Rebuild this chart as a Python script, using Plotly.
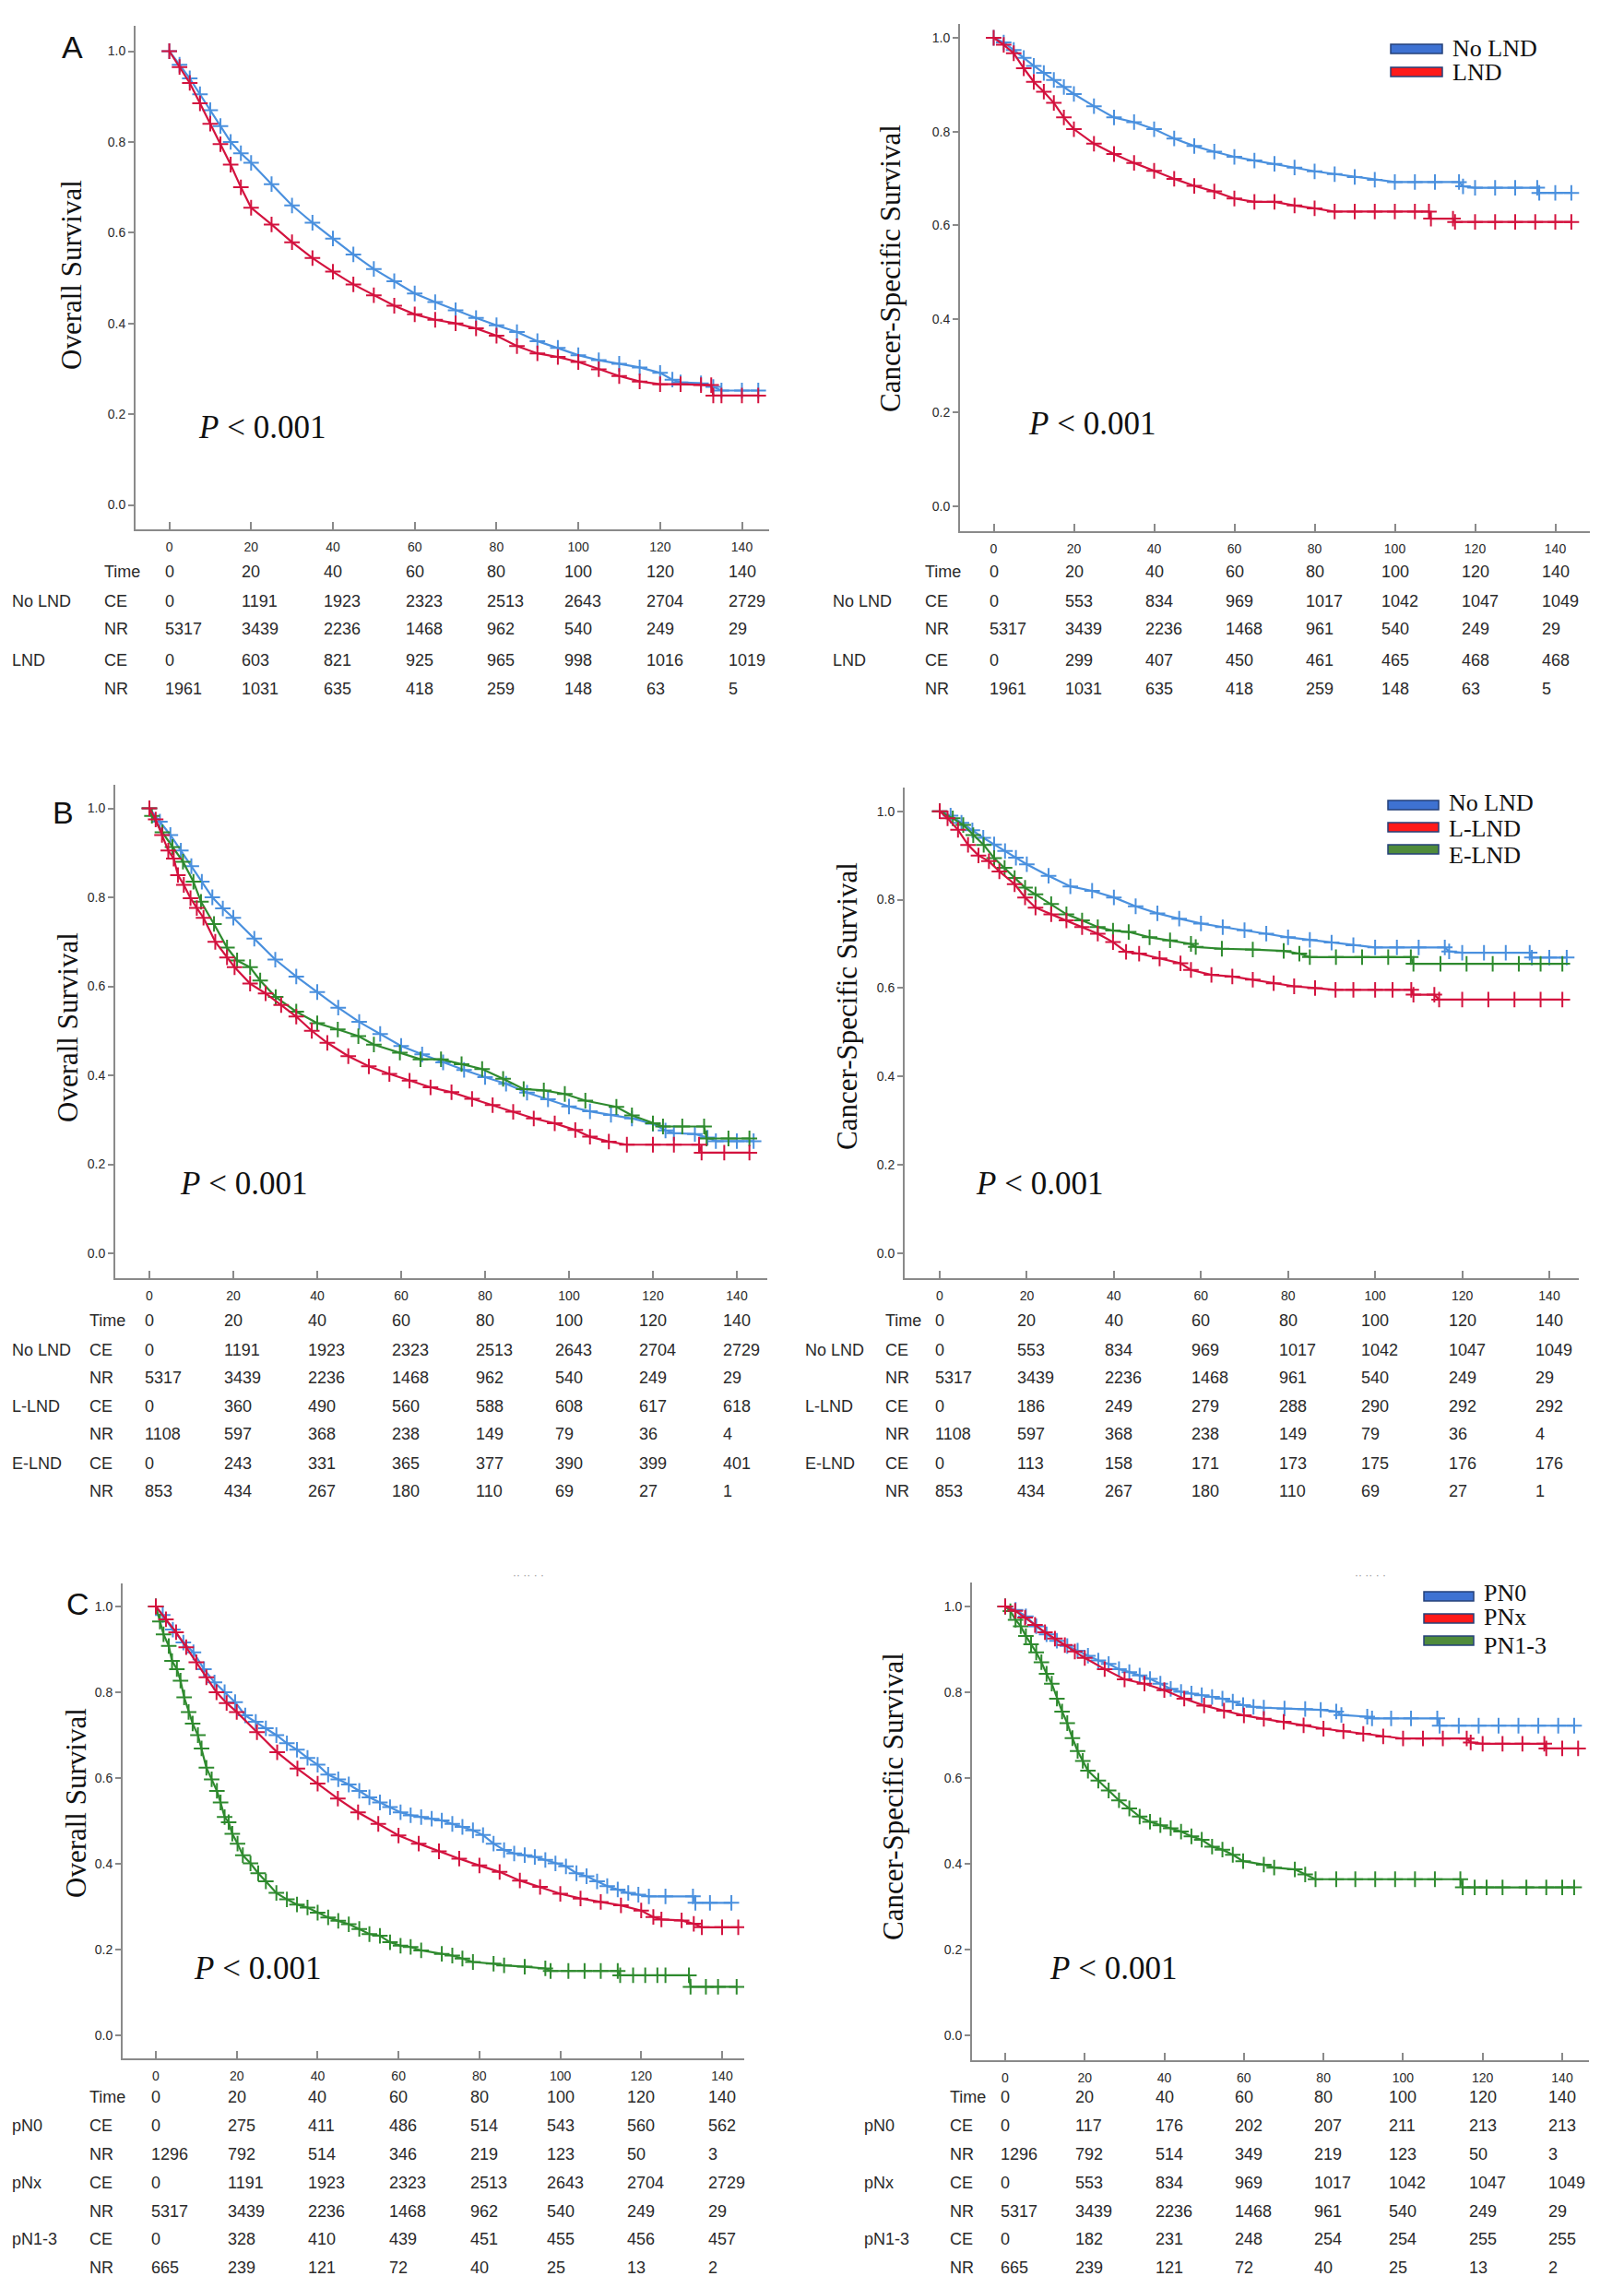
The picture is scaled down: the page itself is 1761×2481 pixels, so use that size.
import plotly.graph_objects as go

W, H = 1761, 2481

# ---------------- data ----------------
TIME_TICKS = [0, 20, 40, 60, 80, 100, 120, 140]
SURV_TICKS = [0.0, 0.2, 0.4, 0.6, 0.8, 1.0]
SURV_TICK_TEXT = ["0.0", "0.2", "0.4", "0.6", "0.8", "1.0"]

# Overall survival, No LND (= pNx)
os_nolnd_t = [0, 2.5, 5, 7.5, 10, 12.5, 15, 17.5, 20, 25, 30, 35, 40, 45, 50, 55, 60, 65, 70, 75, 80,
              85, 90, 95, 100, 105, 110, 115, 120, 123, 125, 130, 133, 135, 140, 144]
os_nolnd_s = [1.0, 0.97, 0.94, 0.905, 0.87, 0.835, 0.80, 0.775, 0.754, 0.707, 0.66, 0.622, 0.587,
              0.552, 0.52, 0.493, 0.466, 0.447, 0.429, 0.412, 0.396, 0.381, 0.361, 0.346, 0.330,
              0.319, 0.311, 0.303, 0.291, 0.276, 0.27, 0.268, 0.26, 0.252, 0.252, 0.252]
# Overall survival, LND
os_lnd_t = [0, 2.5, 5, 7.5, 10, 12.5, 15, 17.5, 20, 25, 30, 35, 40, 45, 50, 55, 60, 65, 70, 75, 80,
            85, 90, 95, 100, 105, 110, 115, 120, 125, 130, 132.5, 133, 135, 140, 144]
os_lnd_s = [1.0, 0.965, 0.93, 0.885, 0.84, 0.795, 0.75, 0.70, 0.655, 0.618, 0.579, 0.544, 0.514,
            0.486, 0.462, 0.439, 0.42, 0.408, 0.40, 0.389, 0.373, 0.35, 0.334, 0.326, 0.315,
            0.299, 0.284, 0.272, 0.266, 0.266, 0.264, 0.264, 0.241, 0.241, 0.241, 0.241]
# Cancer-specific survival, No LND (= pNx)
css_nolnd_t = [0, 2.5, 5, 7.5, 10, 12.5, 15, 17.5, 20, 25, 30, 35, 40, 45, 50, 55, 60, 65, 70, 75,
               80, 85, 90, 95, 100, 105, 110, 116, 117, 120, 125, 130, 135.5, 136, 140, 144]
css_nolnd_s = [1.0, 0.99, 0.974, 0.957, 0.94, 0.925, 0.91, 0.895, 0.88, 0.854, 0.83, 0.82, 0.805,
               0.785, 0.769, 0.757, 0.746, 0.738, 0.731, 0.723, 0.715, 0.709, 0.703, 0.697, 0.692,
               0.692, 0.692, 0.692, 0.683, 0.68, 0.68, 0.68, 0.68, 0.669, 0.669, 0.669]
# Cancer-specific survival, LND
css_lnd_t = [0, 2.5, 5, 7.5, 10, 12.5, 15, 17.5, 20, 25, 30, 35, 40, 45, 50, 55, 60, 65, 70, 75,
             80, 85, 90, 95, 100, 105, 108.5, 109, 114.5, 115, 120, 125, 130, 135, 140, 144]
css_lnd_s = [1.0, 0.985, 0.967, 0.935, 0.906, 0.885, 0.861, 0.83, 0.805, 0.774, 0.752, 0.733, 0.716,
             0.699, 0.684, 0.672, 0.657, 0.65, 0.65, 0.642, 0.636, 0.629, 0.629, 0.629, 0.629,
             0.629, 0.629, 0.614, 0.614, 0.607, 0.607, 0.607, 0.607, 0.607, 0.607, 0.607]
# Overall survival, L-LND
os_llnd_t = [0, 1.5, 3, 4.5, 5.8, 6.8, 8.2, 9.8, 11.3, 12.9, 15.7, 18.5, 20.3, 24, 27.7, 31.4, 35,
             38.7, 42.4, 47.4, 52.3, 57.2, 62, 67, 72, 76.9, 81.8, 86.7, 91.6, 96.6, 101.5, 105,
             109.5, 113.8, 120, 125, 131, 131.6, 137, 143]
os_llnd_s = [1.0, 0.975, 0.94, 0.905, 0.887, 0.85, 0.828, 0.798, 0.776, 0.754, 0.70, 0.665, 0.643,
             0.606, 0.584, 0.558, 0.532, 0.50, 0.473, 0.443, 0.42, 0.403, 0.388, 0.373, 0.362,
             0.347, 0.333, 0.318, 0.303, 0.292, 0.277, 0.262, 0.251, 0.244, 0.244, 0.244, 0.244,
             0.226, 0.226, 0.226]
# Overall survival, E-LND
os_elnd_t = [0, 0.6, 3.1, 5.5, 8, 10.5, 12.3, 15.4, 18.5, 20.9, 24, 26.4, 30.1, 35, 40, 44.9, 49.8,
             53.5, 59.7, 64.6, 69.5, 74.4, 79.3, 84.3, 89.2, 94, 99, 103.9, 111.3, 115, 120, 122.4,
             127, 132.2, 132.8, 138, 143]
os_elnd_s = [1.0, 0.983, 0.946, 0.913, 0.88, 0.835, 0.79, 0.74, 0.687, 0.658, 0.643, 0.613, 0.576,
             0.543, 0.517, 0.503, 0.488, 0.469, 0.451, 0.436, 0.436, 0.425, 0.414, 0.392, 0.369,
             0.366, 0.358, 0.343, 0.329, 0.31, 0.292, 0.285, 0.285, 0.285, 0.258, 0.258, 0.258]
# Cancer-specific survival, L-LND
css_llnd_t = [0, 1.8, 4.2, 6.5, 8.9, 11.3, 13.7, 17.2, 19.6, 22, 25.6, 29.1, 32.7, 36.3, 39.8, 42.8,
              45.8, 50.5, 55.3, 57.7, 62.4, 67.2, 71.9, 76.7, 81.4, 86.2, 90.9, 95, 100, 104, 108.3,
              108.8, 113.6, 114.7, 120, 126, 132, 138, 143]
css_llnd_s = [1.0, 0.984, 0.958, 0.924, 0.90, 0.887, 0.864, 0.835, 0.805, 0.782, 0.767, 0.753,
              0.738, 0.723, 0.704, 0.682, 0.678, 0.667, 0.656, 0.641, 0.63, 0.626, 0.619, 0.611,
              0.604, 0.60, 0.596, 0.596, 0.596, 0.596, 0.596, 0.585, 0.585, 0.574, 0.574, 0.574,
              0.574, 0.574, 0.574]
# Cancer-specific survival, E-LND
css_elnd_t = [0, 3, 5.4, 7.7, 10.1, 12.5, 14.9, 17.2, 19.6, 22, 25.6, 29.1, 32.7, 36.3, 39.8, 43.4,
              48.2, 52.9, 57.7, 58.8, 64.8, 71.9, 79, 82.6, 85, 91, 97, 103, 108.2, 108.8, 115, 121,
              127, 133, 138, 143]
css_elnd_s = [1.0, 0.984, 0.969, 0.946, 0.924, 0.894, 0.872, 0.849, 0.827, 0.812, 0.79, 0.767,
              0.753, 0.738, 0.73, 0.727, 0.715, 0.708, 0.70, 0.693, 0.689, 0.687, 0.684, 0.678,
              0.67, 0.67, 0.67, 0.67, 0.67, 0.655, 0.655, 0.655, 0.655, 0.655, 0.655, 0.655]
# Overall survival, pN0
os_pn0_t = [0, 1.7, 4.2, 6.8, 9.3, 11.9, 14.5, 17, 19.6, 22.1, 24.7, 27.2, 29.8, 32.4, 34.9, 37.5,
            40, 42.6, 45.1, 47.7, 50.3, 52.8, 55.4, 57.9, 60.5, 63, 65.6, 68.2, 70.7, 73.3, 75.8,
            78.4, 80.9, 83.5, 86.1, 88.6, 91.2, 93.7, 96.3, 98.8, 101.4, 104, 106.5, 109.1, 111.6,
            114.2, 116.8, 119.3, 121.9, 126, 132.8, 133.4, 137, 142.3]
os_pn0_s = [1.0, 0.98, 0.946, 0.916, 0.893, 0.854, 0.823, 0.80, 0.777, 0.746, 0.731, 0.716, 0.70,
            0.681, 0.666, 0.647, 0.631, 0.608, 0.597, 0.585, 0.57, 0.555, 0.543, 0.532, 0.52,
            0.513, 0.509, 0.505, 0.501, 0.493, 0.486, 0.478, 0.467, 0.447, 0.432, 0.424, 0.42,
            0.416, 0.409, 0.401, 0.394, 0.378, 0.371, 0.359, 0.348, 0.34, 0.332, 0.328, 0.324,
            0.324, 0.324, 0.309, 0.309, 0.309]
# Overall survival, pN1-3
os_pn13_t = [0, 1, 1.9, 3.2, 4, 5.2, 6.1, 7, 8.1, 9.1, 10.4, 11.3, 12.5, 13.8, 15.1, 16, 17, 18,
             18.9, 20.2, 21.5, 23.4, 25.3, 27.2, 29.8, 32.4, 34.9, 37.5, 40, 42.6, 45.1, 47.7, 50.3,
             52.8, 55.4, 57.9, 60.5, 63, 65.6, 70.7, 73.3, 75.8, 78.4, 83.5, 86.1, 91.2, 96.3,
             97.6, 102, 106, 110, 114.2, 114.8, 118, 121, 124, 126, 131.8, 132.2, 136, 139, 143.6]
os_pn13_s = [1.0, 0.965, 0.935, 0.908, 0.873, 0.854, 0.827, 0.788, 0.754, 0.727, 0.70, 0.669,
             0.624, 0.597, 0.57, 0.543, 0.509, 0.497, 0.47, 0.447, 0.42, 0.401, 0.378, 0.359,
             0.332, 0.317, 0.305, 0.298, 0.286, 0.275, 0.267, 0.259, 0.248, 0.236, 0.232, 0.217,
             0.209, 0.206, 0.198, 0.19, 0.186, 0.179, 0.171, 0.167, 0.163, 0.16, 0.156, 0.15,
             0.15, 0.15, 0.15, 0.15, 0.14, 0.14, 0.14, 0.14, 0.14, 0.14, 0.113, 0.113, 0.113, 0.113]
# Cancer-specific survival, pN0
css_pn0_t = [0, 2.6, 5.2, 7.8, 10.4, 13, 15.6, 18.2, 20.8, 23.4, 26, 28.6, 31.2, 33.8, 36.4, 39,
             41.6, 44.2, 46.8, 49.4, 52, 54.6, 57.2, 59.8, 62.4, 65, 70.2, 75.4, 79.3, 83.2, 84.5,
             91, 92.2, 97, 102, 108.6, 109.2, 114, 119, 124, 129, 134, 139, 143]
css_pn0_s = [1.0, 0.992, 0.977, 0.954, 0.935, 0.92, 0.908, 0.897, 0.885, 0.874, 0.866, 0.854,
             0.847, 0.839, 0.831, 0.82, 0.808, 0.801, 0.797, 0.793, 0.789, 0.785, 0.778, 0.77,
             0.766, 0.764, 0.762, 0.761, 0.759, 0.755, 0.747, 0.743, 0.739, 0.739, 0.739, 0.739,
             0.722, 0.722, 0.722, 0.722, 0.722, 0.722, 0.722, 0.722]
# Cancer-specific survival, pN1-3
css_pn13_t = [0, 1.3, 2.6, 3.9, 5.2, 6.5, 7.8, 9.1, 10.4, 11.7, 13, 14.3, 15.6, 16.9, 18.2, 19.5,
              20.8, 23.4, 26, 28.6, 31.2, 33.8, 36.4, 39, 41.6, 44.2, 46.8, 49.4, 52, 54.6, 57.2,
              59.8, 65, 67.6, 72.8, 75.4, 78, 83.2, 88, 93, 98, 103, 108, 114.4, 115, 118, 121,
              125, 131, 136, 140, 143]
css_pn13_s = [1.0, 0.989, 0.969, 0.954, 0.931, 0.912, 0.893, 0.87, 0.843, 0.82, 0.785, 0.755,
              0.728, 0.693, 0.663, 0.64, 0.617, 0.594, 0.571, 0.548, 0.529, 0.51, 0.498, 0.49,
              0.483, 0.475, 0.464, 0.456, 0.44, 0.433, 0.421, 0.406, 0.398, 0.391, 0.387, 0.375,
              0.364, 0.364, 0.364, 0.364, 0.364, 0.364, 0.364, 0.364, 0.345, 0.345, 0.345, 0.345,
              0.345, 0.345, 0.345, 0.345]

# Risk tables (CE = cumulative events, NR = number at risk)
os_nolnd_ce = [0, 1191, 1923, 2323, 2513, 2643, 2704, 2729]
os_nolnd_nr = [5317, 3439, 2236, 1468, 962, 540, 249, 29]
os_lnd_ce = [0, 603, 821, 925, 965, 998, 1016, 1019]
os_lnd_nr = [1961, 1031, 635, 418, 259, 148, 63, 5]
css_nolnd_ce = [0, 553, 834, 969, 1017, 1042, 1047, 1049]
css_nolnd_nr = [5317, 3439, 2236, 1468, 961, 540, 249, 29]
css_lnd_ce = [0, 299, 407, 450, 461, 465, 468, 468]
css_lnd_nr = [1961, 1031, 635, 418, 259, 148, 63, 5]
os_llnd_ce = [0, 360, 490, 560, 588, 608, 617, 618]
os_llnd_nr = [1108, 597, 368, 238, 149, 79, 36, 4]
os_elnd_ce = [0, 243, 331, 365, 377, 390, 399, 401]
os_elnd_nr = [853, 434, 267, 180, 110, 69, 27, 1]
css_llnd_ce = [0, 186, 249, 279, 288, 290, 292, 292]
css_llnd_nr = [1108, 597, 368, 238, 149, 79, 36, 4]
css_elnd_ce = [0, 113, 158, 171, 173, 175, 176, 176]
css_elnd_nr = [853, 434, 267, 180, 110, 69, 27, 1]
os_pn0_ce = [0, 275, 411, 486, 514, 543, 560, 562]
os_pn0_nr = [1296, 792, 514, 346, 219, 123, 50, 3]
os_pn13_ce = [0, 328, 410, 439, 451, 455, 456, 457]
os_pn13_nr = [665, 239, 121, 72, 40, 25, 13, 2]
css_pn0_ce = [0, 117, 176, 202, 207, 211, 213, 213]
css_pn0_nr = [1296, 792, 514, 349, 219, 123, 50, 3]
css_pn13_ce = [0, 182, 231, 248, 254, 254, 255, 255]
css_pn13_nr = [665, 239, 121, 72, 40, 25, 13, 2]

# ---------------- style ----------------
BLUE = "#4A90DE"
RED = "#D3123E"
GREEN = "#2E8A2E"
LEG_BLUE = "#3E72D2"
LEG_RED = "#FF1A1A"
LEG_GREEN = "#4F8B3B"
AXIS_COL = "#8A8A8A"
TXT = "#2A2A2A"
SERIF = "Liberation Serif, Times New Roman, serif"
SANS = "Liberation Sans, Arial, sans-serif"

def px(x):
    return x / W

def py(y):
    return 1 - y / H

panels = [
    dict(geo=(139, 20, 826, 566, 175.6, 796.5, 47.5, 539.5),
         curves=[(os_nolnd_t, os_nolnd_s, BLUE), (os_lnd_t, os_lnd_s, RED)],
         ytitle="Overall Survival", ytx=70, yty=290, letter=("A", 57, 43), p=(205, 455),
         table=[("No LND", os_nolnd_ce, os_nolnd_nr), ("LND", os_lnd_ce, os_lnd_nr)],
         gx=3, sx=103, rows=[612, 644, 674, 708, 739], legend=None),
    dict(geo=(1033, 18, 1716, 568, 1069.5, 1678.5, 33, 541),
         curves=[(css_nolnd_t, css_nolnd_s, BLUE), (css_lnd_t, css_lnd_s, RED)],
         ytitle="Cancer-Specific Survival", ytx=958, yty=283, letter=None, p=(1105, 451),
         table=[("No LND", css_nolnd_ce, css_nolnd_nr), ("LND", css_lnd_ce, css_lnd_nr)],
         gx=893, sx=993, rows=[612, 644, 674, 708, 739],
         legend=dict(bx=(1500, 1556), ys=[45, 70], tys=[44, 70], tx=1566,
                     items=[("No LND", LEG_BLUE), ("LND", LEG_RED)])),
    dict(geo=(117, 843, 824, 1378, 154, 791, 868.5, 1351),
         curves=[(os_nolnd_t, os_nolnd_s, BLUE), (os_elnd_t, os_elnd_s, GREEN),
                 (os_llnd_t, os_llnd_s, RED)],
         ytitle="Overall Survival", ytx=65, yty=1106, letter=("B", 47, 873), p=(185, 1275),
         table=[("No LND", os_nolnd_ce, os_nolnd_nr), ("L-LND", os_llnd_ce, os_llnd_nr),
                ("E-LND", os_elnd_ce, os_elnd_nr)],
         gx=3, sx=87, rows=[1424, 1456, 1486, 1517, 1547, 1579, 1609], legend=None),
    dict(geo=(973, 846, 1704, 1378, 1011, 1672, 871.7, 1351),
         curves=[(css_nolnd_t, css_nolnd_s, BLUE), (css_elnd_t, css_elnd_s, GREEN),
                 (css_llnd_t, css_llnd_s, RED)],
         ytitle="Cancer-Specific Survival", ytx=910, yty=1083, letter=None, p=(1048, 1275),
         table=[("No LND", css_nolnd_ce, css_nolnd_nr), ("L-LND", css_llnd_ce, css_llnd_nr),
                ("E-LND", css_elnd_ce, css_elnd_nr)],
         gx=863, sx=950, rows=[1424, 1456, 1486, 1517, 1547, 1579, 1609],
         legend=dict(bx=(1497, 1552), ys=[865, 889, 913], tys=[862, 891, 919], tx=1562,
                     items=[("No LND", LEG_BLUE), ("L-LND", LEG_RED), ("E-LND", LEG_GREEN)])),
    dict(geo=(125, 1709, 799, 2224, 161, 775, 1734, 2199),
         curves=[(os_pn0_t, os_pn0_s, BLUE), (os_pn13_t, os_pn13_s, GREEN),
                 (os_nolnd_t, os_nolnd_s, RED)],
         ytitle="Overall Survival", ytx=74, yty=1947, letter=("C", 62, 1731), p=(200, 2126),
         table=[("pN0", os_pn0_ce, os_pn0_nr), ("pNx", os_nolnd_ce, os_nolnd_nr),
                ("pN1-3", os_pn13_ce, os_pn13_nr)],
         gx=3, sx=87, rows=[2266, 2297, 2328, 2359, 2390, 2420, 2451], legend=None),
    dict(geo=(1046, 1708, 1715, 2226, 1082, 1686, 1734, 2199),
         curves=[(css_pn0_t, css_pn0_s, BLUE), (css_pn13_t, css_pn13_s, GREEN),
                 (css_nolnd_t, css_nolnd_s, RED)],
         ytitle="Cancer-Specific Survival", ytx=960, yty=1940, letter=None, p=(1128, 2126),
         table=[("pN0", css_pn0_ce, css_pn0_nr), ("pNx", css_nolnd_ce, css_nolnd_nr),
                ("pN1-3", css_pn13_ce, css_pn13_nr)],
         gx=927, sx=1020, rows=[2266, 2297, 2328, 2359, 2390, 2420, 2451],
         legend=dict(bx=(1536, 1590), ys=[1723, 1747, 1771], tys=[1719, 1746, 1776], tx=1600,
                     items=[("PN0", LEG_BLUE), ("PNx", LEG_RED), ("PN1-3", LEG_GREEN)])),
]

fig = go.Figure()
annotations = []
shapes = []
layout = {}

for k, pnl in enumerate(panels, start=1):
    x0, y0, x1, y1, t0, t140, p1, p0 = pnl["geo"]
    ppu = (t140 - t0) / 140.0
    ppv = p0 - p1
    xr = [(x0 - t0) / ppu, (x1 - t0) / ppu]
    yr = [-(y1 - p0) / ppv, 1 + (p1 - y0) / ppv]
    xa = "x" if k == 1 else f"x{k}"
    ya = "y" if k == 1 else f"y{k}"
    layout["xaxis" if k == 1 else f"xaxis{k}"] = dict(
        domain=[px(x0), px(x1)], range=xr, anchor=ya, tickvals=TIME_TICKS,
        ticks="inside", ticklen=8, tickwidth=1.5, tickcolor=AXIS_COL,
        showline=True, linecolor=AXIS_COL, linewidth=2, showgrid=False, zeroline=False,
        tickfont=dict(family=SANS, size=14, color=TXT), ticklabelstandoff=5)
    layout["yaxis" if k == 1 else f"yaxis{k}"] = dict(
        domain=[py(y1), py(y0)], range=yr, anchor=xa, tickvals=SURV_TICKS,
        ticktext=SURV_TICK_TEXT, ticks="outside", ticklen=6, tickwidth=1.5,
        tickcolor=AXIS_COL, showline=True, linecolor=AXIS_COL, linewidth=2,
        showgrid=False, zeroline=False, tickfont=dict(family=SANS, size=14, color=TXT))

    for t, s, c in pnl["curves"]:
        fig.add_trace(go.Scatter(
            x=t, y=s, xaxis=xa, yaxis=ya, mode="lines+markers",
            line=dict(shape="linear", width=2.2, color=c),
            marker=dict(symbol="cross-thin", size=12, color=c, line=dict(width=2, color=c)),
            showlegend=False, hoverinfo="skip"))

    # y-axis title
    annotations.append(dict(text=pnl["ytitle"], x=px(pnl["ytx"]), y=py(pnl["yty"]),
                            xref="paper", yref="paper", textangle=-90, showarrow=False,
                            xanchor="center", yanchor="middle",
                            font=dict(family=SERIF, size=31, color="#111")))
    # P value
    annotations.append(dict(text="<i>P</i> < 0.001", x=px(pnl["p"][0]), y=py(pnl["p"][1]),
                            xref="paper", yref="paper", showarrow=False, xanchor="left",
                            yanchor="middle", font=dict(family=SERIF, size=35, color="#111")))
    if pnl["letter"]:
        L, lx, ly = pnl["letter"]
        annotations.append(dict(text=L, x=px(lx), y=py(ly), xref="paper", yref="paper",
                                showarrow=False, xanchor="left", yanchor="middle",
                                font=dict(family=SANS, size=34, color="#111")))
    # legend
    if pnl["legend"]:
        lg = pnl["legend"]
        for (name, col), yy, ty in zip(lg["items"], lg["ys"], lg["tys"]):
            shapes.append(dict(type="rect", xref="paper", yref="paper",
                               x0=px(lg["bx"][0]), x1=px(lg["bx"][1]),
                               y0=py(yy + 5), y1=py(yy - 5), fillcolor=col,
                               line=dict(color="#24407A", width=1.5)))
            annotations.append(dict(text=name, x=px(lg["tx"]), y=py(ty), xref="paper",
                                    yref="paper", showarrow=False, xanchor="left",
                                    yanchor="middle", borderpad=0,
                                    font=dict(family=SERIF, size=26, color="#111")))
    # risk table
    rows = pnl["rows"]

    def col_left(t, t0=t0, ppu=ppu):
        return t0 + t * ppu - 5.0 * len(str(t)) - 2

    tbl_font = dict(family=SANS, size=18, color=TXT)
    annotations.append(dict(text="Time", x=px(pnl["sx"]), y=py(rows[0]), xref="paper",
                            yref="paper", showarrow=False, xanchor="left", yanchor="middle",
                            font=tbl_font))
    for t in TIME_TICKS:
        annotations.append(dict(text=str(t), x=px(col_left(t)), y=py(rows[0]), xref="paper",
                                yref="paper", showarrow=False, xanchor="left",
                                yanchor="middle", font=tbl_font))
    for gi, (gname, ce, nr) in enumerate(pnl["table"]):
        r_ce = rows[1 + 2 * gi]
        r_nr = rows[2 + 2 * gi]
        annotations.append(dict(text=gname, x=px(pnl["gx"]), y=py(r_ce), xref="paper",
                                yref="paper", showarrow=False, xanchor="left",
                                yanchor="middle", font=tbl_font))
        for lab, vals, rr in (("CE", ce, r_ce), ("NR", nr, r_nr)):
            annotations.append(dict(text=lab, x=px(pnl["sx"]), y=py(rr), xref="paper",
                                    yref="paper", showarrow=False, xanchor="left",
                                    yanchor="middle", font=tbl_font))
            for t, v in zip(TIME_TICKS, vals):
                annotations.append(dict(text=str(v), x=px(col_left(t)), y=py(rr),
                                        xref="paper", yref="paper", showarrow=False,
                                        xanchor="left", yanchor="middle", font=tbl_font))

# faint scan artefacts above panel C
for ax_x in (546, 1459):
    annotations.append(dict(text="·· ·· · ·", x=px(ax_x), y=py(1700), xref="paper",
                            yref="paper", showarrow=False, xanchor="left", yanchor="middle",
                            font=dict(family=SANS, size=12, color="#9a9a9a")))

fig.update_layout(
    width=W, height=H, margin=dict(l=0, r=0, t=0, b=0),
    paper_bgcolor="white", plot_bgcolor="white",
    annotations=annotations, shapes=shapes, showlegend=False, **layout)

fig.write_html("out.html")
